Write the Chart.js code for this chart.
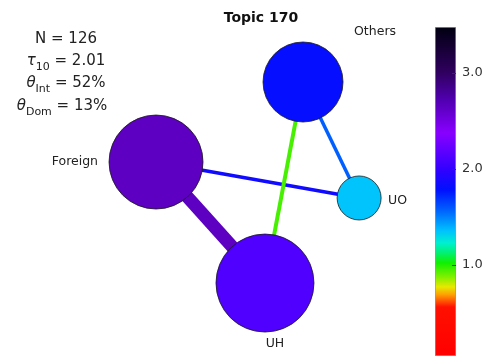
<!DOCTYPE html>
<html lang="en">
<head>
<meta charset="UTF-8">
<title>Topic 170</title>
<script src="https://cdn.jsdelivr.net/npm/chart.js"></script>
<style>
    body { margin: 0; background: #fff; }
    #wrap { position: relative; width: 489px; height: 358px; }
    #net { position: absolute; left: 0; top: 0; }
    #cbar { position: absolute; left: 425px; top: 0; }
</style>
</head>
<body>
<div id="wrap">
    <canvas id="net" width="489" height="358"></canvas>
    <canvas id="cbar" width="64" height="358"></canvas>
</div>
<script>
// network nodes (layout coordinates), their colour value and size
const nodeNames = ['Others', 'Foreign', 'UO', 'UH'];
const nodeX = [0.383, -0.579, 0.750, 0.134];
const nodeY = [0.634, 0.111, -0.124, -0.680];
const nodeValue = [1.80, 2.64, 1.35, 2.13];
const nodeSize = [40, 47, 22, 49];

// edges between nodes
const edgeFrom = ['Foreign', 'Others', 'Others', 'Foreign'];
const edgeTo = ['UH', 'UH', 'UO', 'UO'];
const edgeValue = [2.64, 0.95, 1.57, 1.85];
const edgeWeight = [13, 4, 3.5, 3.5];

// colour bar
const colorMin = 0.05;
const colorMax = 3.48;
const colorTicks = [1.0, 2.0, 3.0];

// topic stats
const topicId = 170;
const statN = 126;
const statTau10 = 2.01;
const statThetaInt = 52;
const statThetaDom = 13;

// colormap stops: value -> colour
const cmapStops = [
    [0.05, '#ff0000'], [0.56, '#ff1000'], [0.69, '#ffa000'], [0.77, '#e8e800'],
    [0.875, '#80f000'], [1.02, '#10f000'], [1.14, '#00f080'], [1.23, '#00f0d0'],
    [1.36, '#00c0ff'], [1.57, '#0060ff'], [1.78, '#0010ff'], [1.99, '#3000ff'],
    [2.375, '#8800ff'], [2.72, '#5000b0'], [3.0, '#300060'], [3.48, '#000010']
];

function hexRgb(h) {
    return [1, 3, 5].map(i => parseInt(h.substr(i, 2), 16));
}
function cmap(v) {
    if (v <= cmapStops[0][0]) return cmapStops[0][1];
    for (let i = 1; i < cmapStops.length; i++) {
        const [v1, c1] = cmapStops[i];
        if (v <= v1) {
            const [v0, c0] = cmapStops[i - 1];
            const t = (v - v0) / (v1 - v0);
            const a = hexRgb(c0), b = hexRgb(c1);
            const m = a.map((x, k) => Math.round(x + (b[k] - x) * t));
            return 'rgb(' + m.join(',') + ')';
        }
    }
    return cmapStops[cmapStops.length - 1][1];
}

const FONT = "'DejaVu Sans', sans-serif";
const pt = name => {
    const i = nodeNames.indexOf(name);
    return { x: nodeX[i], y: nodeY[i] };
};

const edgeSets = edgeFrom.map((f, i) => ({
    data: [pt(f), pt(edgeTo[i])],
    showLine: true,
    borderColor: cmap(edgeValue[i]),
    borderWidth: edgeWeight[i],
    borderCapStyle: 'butt',
    pointRadius: 0,
    order: 1
}));

const nodeSet = {
    data: nodeNames.map(pt),
    pointRadius: nodeSize,
    pointHoverRadius: nodeSize,
    backgroundColor: nodeValue.map(cmap),
    borderColor: '#1a1a1a',
    borderWidth: 0.8,
    order: 0
};

// label placement around each node: [dx, dy, align]
const labelPlace = {
    Others: [72, -50, 'center'],
    Foreign: [-58, 0, 'right'],
    UO: [29, 3, 'left'],
    UH: [10, 61, 'center']
};

// draws a line of text with italic / subscript pieces, centred on cx
function drawMath(ctx, parts, cx, base) {
    const fontOf = p => (p.it ? 'italic ' : '') + (p.sub ? '11px ' : '15px ') + FONT;
    let w = 0;
    parts.forEach(p => { ctx.font = fontOf(p); w += ctx.measureText(p.t).width; });
    let x = cx - w / 2;
    ctx.textAlign = 'left';
    ctx.textBaseline = 'alphabetic';
    parts.forEach(p => {
        ctx.font = fontOf(p);
        ctx.fillText(p.t, x, base + (p.sub ? 5 : 0));
        x += ctx.measureText(p.t).width;
    });
}

const textPlugin = {
    id: 'texts',
    afterDraw(chart) {
        const ctx = chart.ctx;
        ctx.save();
        ctx.fillStyle = '#111';
        ctx.font = 'bold 14px ' + FONT;
        ctx.textAlign = 'center';
        ctx.textBaseline = 'alphabetic';
        ctx.fillText('Topic ' + topicId, 261, 22);

        ctx.fillStyle = '#222';
        drawMath(ctx, [{ t: 'N = ' + statN }], 66, 43);
        drawMath(ctx, [{ t: 'τ', it: true }, { t: '10', sub: true }, { t: ' = ' + statTau10.toFixed(2) }], 66, 65);
        drawMath(ctx, [{ t: 'θ', it: true }, { t: 'Int', sub: true }, { t: ' = ' + statThetaInt + '%' }], 66, 87);
        drawMath(ctx, [{ t: 'θ', it: true }, { t: 'Dom', sub: true }, { t: ' = ' + statThetaDom + '%' }], 62, 110);

        const meta = chart.getDatasetMeta(chart.data.datasets.length - 1);
        ctx.font = '12.5px ' + FONT;
        ctx.textBaseline = 'middle';
        ctx.fillStyle = '#222';
        nodeNames.forEach((name, i) => {
            const el = meta.data[i];
            const [dx, dy, al] = labelPlace[name];
            ctx.textAlign = al;
            ctx.fillText(name, el.x + dx, el.y + dy);
        });
        ctx.restore();
    }
};

new Chart(document.getElementById('net'), {
    type: 'scatter',
    data: { datasets: [...edgeSets, nodeSet] },
    options: {
        responsive: false,
        animation: false,
        events: [],
        layout: { padding: 0, autoPadding: false },
        plugins: { legend: { display: false }, tooltip: { enabled: false } },
        scales: {
            x: { display: false, min: -1.6, max: 1.6 },
            y: { display: false, min: -1.17, max: 1.17 }
        }
    },
    plugins: [textPlugin]
});

// colour bar with its value axis
const tickMarks = {
    id: 'tickMarks',
    afterDatasetsDraw(chart) {
        const ctx = chart.ctx, y = chart.scales.y, r = chart.chartArea.right;
        ctx.save();
        ctx.strokeStyle = '#333';
        ctx.lineWidth = 1;
        colorTicks.forEach(v => {
            const py = Math.round(y.getPixelForValue(v)) + 0.5;
            ctx.beginPath();
            ctx.moveTo(r - 4, py);
            ctx.lineTo(r, py);
            ctx.stroke();
        });
        ctx.restore();
    }
};

new Chart(document.getElementById('cbar'), {
    type: 'bar',
    data: {
        labels: [''],
        datasets: [{
            data: [[colorMin, colorMax]],
            backgroundColor: c => {
                const { chart } = c;
                if (!chart.chartArea) return null;
                const y = chart.scales.y;
                const g = chart.ctx.createLinearGradient(0, y.getPixelForValue(colorMin), 0, y.getPixelForValue(colorMax));
                cmapStops.forEach(([v, col]) => g.addColorStop((v - colorMin) / (colorMax - colorMin), col));
                return g;
            },
            borderColor: '#999',
            borderWidth: 1,
            borderSkipped: false,
            barPercentage: 1,
            categoryPercentage: 1
        }]
    },
    options: {
        responsive: false,
        animation: false,
        events: [],
        layout: { padding: { left: 10, top: 27, bottom: 2, right: 0 }, autoPadding: false },
        plugins: { legend: { display: false }, tooltip: { enabled: false } },
        scales: {
            x: { display: false },
            y: {
                position: 'right',
                min: colorMin,
                max: colorMax,
                grid: { display: false, drawTicks: false },
                border: { display: false },
                afterBuildTicks: s => { s.ticks = colorTicks.map(v => ({ value: v })); },
                afterFit: s => { s.width = 33; s.paddingTop = 0; s.paddingBottom = 0; },
                ticks: {
                    padding: 6,
                    color: '#333',
                    font: { family: FONT, size: 13 },
                    callback: v => v.toFixed(1)
                }
            }
        }
    },
    plugins: [tickMarks]
});
</script>
</body>
</html>
